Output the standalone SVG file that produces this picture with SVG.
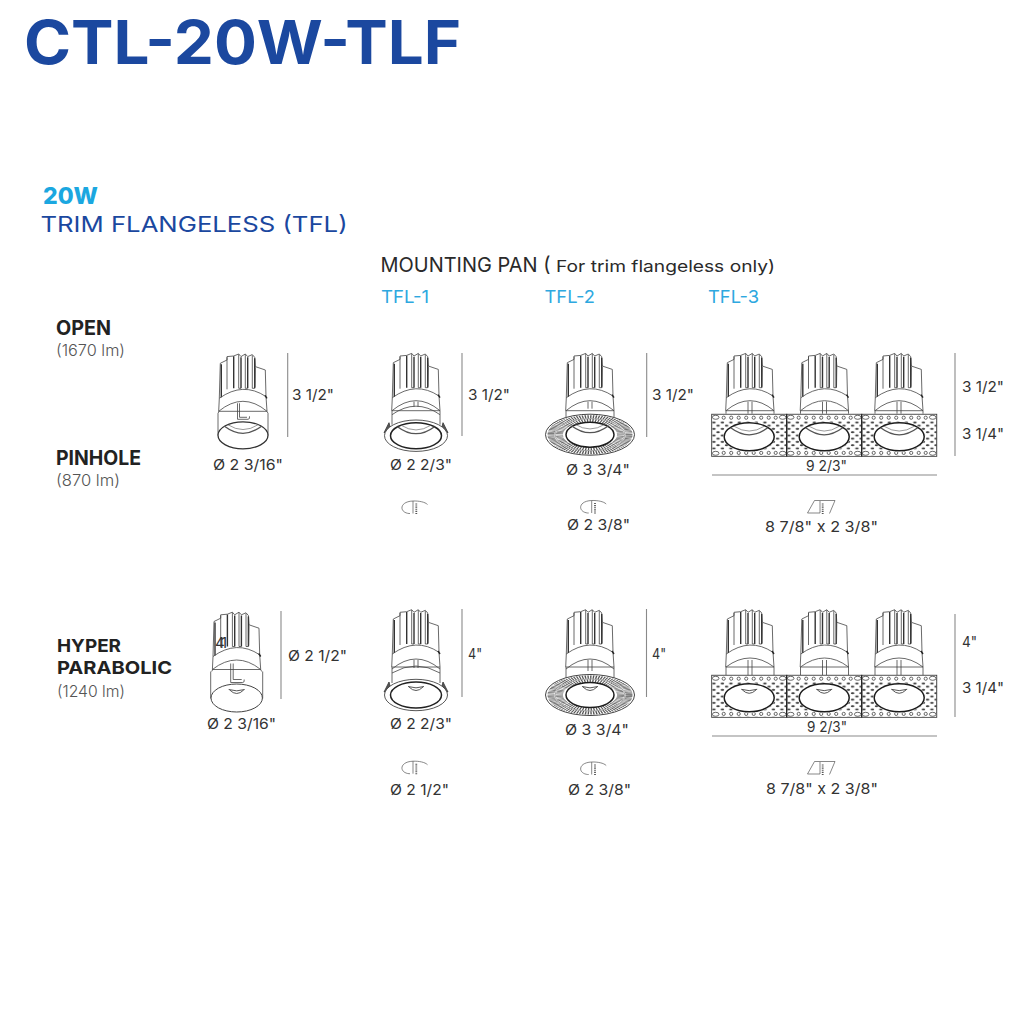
<svg xmlns="http://www.w3.org/2000/svg" xmlns:xlink="http://www.w3.org/1999/xlink" width="1030" height="1030" viewBox="0 0 1030 1030">
<style>
text{font-family:"Inter","Liberation Sans",sans-serif}
.dim{font-size:15px;fill:#333}
.head{font-size:19.5px;font-weight:700;fill:#222}
.head2{font-size:18px;font-weight:700;fill:#222}
.lm{font-size:16px;font-weight:300;fill:#555}
.tfl{font-size:17.5px;fill:#2ea8df}
.ln{fill:none;stroke:#444;stroke-width:.8}
.w{fill:#fff;stroke:#444;stroke-width:.8}
.dk{fill:none;stroke:#333;stroke-width:1.4}
.hole{fill:#fff;stroke:#1c1c1c;stroke-width:1.5}
.dimline{stroke:#8a8a8a;stroke-width:1.1;fill:none}
.scr{fill:none;stroke:#555;stroke-width:1.8;stroke-dasharray:1 .9}
.icn{fill:none;stroke:#555;stroke-width:.7}
.div{stroke:#222;stroke-width:1.2;fill:none}
</style>
<defs>
<g id="sink">
<path class="w" d="M-24.3,58 L-23.7,45 L-22.7,10 L-16,6.7 L-16,3.3 L-9.3,2.7 L-4.3,.7 L-2,3.3 L2.3,.7 L4.7,3.3 L9.3,1.3 L11.7,4 L12.3,13.3 L22.3,16.7 L23,43.3 L24,58 Z"/>
<path class="dk" d="M-21.7,11 V44 M-9.3,3 V35 M-2,4 V35 M4.7,4 V35 M11.7,5 V35"/>
<path class="ln" d="M-16,4 V36 M-4.3,1 V35 H-2 M2.3,1 V35 H4.7 M9.3,2 V35 H11.7 M12.3,14 L12,34 M-23.7,45 Q0,28 23,43.3"/>
<path d="M22,42 L24,45" stroke="#222" stroke-width="1.4" fill="none"/>
</g>
<pattern id="holes" width="8.5" height="6.5" patternUnits="userSpaceOnUse">
<ellipse cx="2.2" cy="1.6" rx="1.8" ry=".9" fill="#333"/>
<ellipse cx="6.4" cy="4.9" rx="1.8" ry=".9" fill="#333"/>
</pattern>
<g id="cell">
<rect width="75" height="42" fill="url(#holes)" stroke="#444" stroke-width="1"/>
<rect x=".6" y=".6" width="73.8" height="6" fill="#fff"/>
<rect x=".6" y="35.4" width="73.8" height="6" fill="#fff"/>
<g fill="#fff" stroke="#444" stroke-width=".8">
<ellipse cx="4" cy="3" rx="3.300" ry="2"/><ellipse cx="71" cy="3" rx="3.300" ry="2"/><ellipse cx="4" cy="39" rx="3.300" ry="2"/><ellipse cx="71" cy="39" rx="3.300" ry="2"/>
<circle cx="12" cy="3.400" r="1.600"/><circle cx="19.500" cy="3.400" r="1.600"/><circle cx="27" cy="3.400" r="1.600"/><circle cx="34.500" cy="3.400" r="1.600"/><circle cx="42" cy="3.400" r="1.600"/><circle cx="49.500" cy="3.400" r="1.600"/><circle cx="57" cy="3.400" r="1.600"/><circle cx="64" cy="3.400" r="1.600"/>
<circle cx="12" cy="38.600" r="1.600"/><circle cx="19.500" cy="38.600" r="1.600"/><circle cx="27" cy="38.600" r="1.600"/><circle cx="34.500" cy="38.600" r="1.600"/><circle cx="42" cy="38.600" r="1.600"/><circle cx="49.500" cy="38.600" r="1.600"/><circle cx="57" cy="38.600" r="1.600"/><circle cx="64" cy="38.600" r="1.600"/>
</g>
<ellipse cx="37.500" cy="22.500" rx="26" ry="15" fill="#fff"/>
<ellipse class="hole" cx="37.500" cy="22.500" rx="25" ry="14"/>
</g>
<g id="baffle" fill="none" stroke="#555">
<path d="M-18.500,-9 Q0,5 18.500,-9" stroke-width="1.300"/>
<path d="M-15,-10.500 Q0,-1 15,-10.500" stroke-width=".6"/>
</g>
<path id="lens" d="M-8,-8.500 Q0,-5.800 8,-8.500 M-7,-8 Q0,-1 7,-8" fill="none" stroke="#444" stroke-width=".9"/>
<g id="disc">
<ellipse cx="0" cy="0" rx="44.500" ry="20.500" fill="#fff" stroke="#444" stroke-width="1"/>
<g transform="scale(1,.46)" fill="none" stroke="#555">
<circle r="39" stroke-width="7" stroke-dasharray="1.400 1.300"/>
<circle r="30.500" stroke-width="7" stroke-dasharray="1.300 1.400"/>
<circle r="34.800" stroke-width=".8" stroke="#666"/>
</g>
<ellipse class="hole" cx="0" cy="0" rx="24" ry="12.500"/>
</g>
<g id="ring">
<path d="M-27,-13 L-32,-3 L-25,-5 Z M27,-13 L32,-3 L25,-5 Z" fill="#555" stroke="#333" stroke-width=".8"/>
<ellipse fill="#fff" stroke="#444" stroke-width=".9" cx="0" cy="0" rx="31.500" ry="15.700"/>
<ellipse fill="#fff" stroke="#222" stroke-width="1.500" cx="0" cy="0" rx="25.500" ry="13"/>
</g>
<g id="round">
<path class="icn" d="M-3,13 H-4 C-14,12 -14,1 0,.5 C6,.3 12,1.500 14.500,4 M0,.5 V13"/>
<path class="scr" d="M3.300,3 V14"/>
</g>
<g id="rect">
<path class="icn" d="M0,12.500 H-12.500 L-5.500,0 H15 L9.500,13 M0,.5 V12.500"/>
<path class="scr" d="M2.700,3 V14"/>
</g>
</defs>
<rect width="1030" height="1030" fill="#fff"/>

<g id="titles">
<text x="24" y="64" font-size="60" font-weight="700" fill="#1b489f" textLength="437" lengthAdjust="spacingAndGlyphs">CTL-20W-TLF</text>
<text x="43" y="203.500" font-size="23" font-weight="800" fill="#1ba7e0" textLength="55" lengthAdjust="spacingAndGlyphs">20W</text>
<text x="40.500" y="232" font-size="22" font-weight="400" fill="#1b489f" textLength="307" lengthAdjust="spacingAndGlyphs">TRIM FLANGELESS (TFL)</text>
<text x="380.500" y="271.700" font-size="20.500" fill="#2a2a2a" textLength="170" lengthAdjust="spacingAndGlyphs">MOUNTING PAN (</text>
<text x="556" y="271.700" font-size="16.500" fill="#2a2a2a" textLength="219" lengthAdjust="spacingAndGlyphs">For trim flangeless only)</text>
<text class="tfl" x="381" y="303" textLength="48" lengthAdjust="spacingAndGlyphs">TFL-1</text>
<text class="tfl" x="544.500" y="303" textLength="50.500" lengthAdjust="spacingAndGlyphs">TFL-2</text>
<text class="tfl" x="708" y="303" textLength="51" lengthAdjust="spacingAndGlyphs">TFL-3</text>
</g>

<g id="row-labels">
<text class="head" x="56" y="335" textLength="55" lengthAdjust="spacingAndGlyphs">OPEN</text>
<text class="lm" x="56" y="355.700" textLength="69" lengthAdjust="spacingAndGlyphs">(1670 lm)</text>
<text class="head" x="56" y="465" textLength="85" lengthAdjust="spacingAndGlyphs">PINHOLE</text>
<text class="lm" x="56" y="486" textLength="64" lengthAdjust="spacingAndGlyphs">(870 lm)</text>
<text class="head2" x="57" y="652" textLength="64" lengthAdjust="spacingAndGlyphs">HYPER</text>
<text class="head2" x="57" y="674" textLength="115" lengthAdjust="spacingAndGlyphs">PARABOLIC</text>
<text class="lm" x="57" y="696.500" textLength="68" lengthAdjust="spacingAndGlyphs">(1240 lm)</text>
</g>

<g id="connectors">
<path class="dimline" d="M287.700,353 V437 M462,353 V436 M646.700,353 V437 M955,353 V456 M712,475 H937"/>
<path class="dimline" d="M281,611 V699 M462,609 V697 M646.500,609 V697 M955,614 V717 M712,736 H937"/>
</g>

<g id="fixture-open-plain" transform="translate(243,353.300)">
<path class="ln" d="M-25,60 V82 M25,60 V82"/>
<use xlink:href="#sink" href="#sink"/>
<path class="ln" d="M-25,60 L-24,58 M25,60 L24,58 M-24.300,58 Q0,38 24,58"/>
<path class="ln" d="M-5.500,50 V66 H5 Q7,66 6.500,63 M-3.500,50 V64 H4"/>
<ellipse cx="0" cy="82" rx="25" ry="13.500" fill="#fff" stroke="#333" stroke-width="1.300"/>
<use xlink:href="#baffle" href="#baffle" x="0" y="82"/>
</g>
<g id="fixture-open-tfl1" transform="translate(416,352.700)">
<use xlink:href="#sink" href="#sink"/>
<path class="ln" d="M-24,58 Q0,38 24,58 M-24,62 Q0,45 24,62 M-24,58 V72 M24,58 V72 M-2,49 V54 M2,49 V54"/>
<use xlink:href="#ring" href="#ring" x="0" y="83"/>
<use xlink:href="#baffle" href="#baffle" x="0" y="83"/>
</g>
<g id="fixture-open-tfl2" transform="translate(590,352.700)">
<use xlink:href="#sink" href="#sink"/>
<path class="ln" d="M-24,58 Q0,38 24,58 M-24,58 V70 M24,58 V70 M-2,49 V56 M2,49 V56"/>
<use xlink:href="#disc" href="#disc" x="0" y="82"/>
<use xlink:href="#baffle" href="#baffle" x="0" y="82"/>
</g>
<g id="fixture-open-tfl3">
<g transform="translate(750,352.700)"><use xlink:href="#sink" href="#sink"/><path class="ln" d="M-24,61 V58 Q0,38 24,58 V61 M-2,49 V61 M2,49 V61"/></g>
<g transform="translate(824.500,352.700)"><use xlink:href="#sink" href="#sink"/><path class="ln" d="M-24,61 V58 Q0,38 24,58 V61 M-2,49 V61 M2,49 V61"/></g>
<g transform="translate(899,352.700)"><use xlink:href="#sink" href="#sink"/><path class="ln" d="M-24,61 V58 Q0,38 24,58 V61 M-2,49 V61 M2,49 V61"/></g>
<use xlink:href="#cell" href="#cell" x="711.700" y="414.300"/>
<use xlink:href="#cell" href="#cell" x="786.700" y="414.300"/>
<use xlink:href="#cell" href="#cell" x="861.700" y="414.300"/>
<path class="div" d="M786.700,414.300 V456.300 M861.700,414.300 V456.300"/>
<use xlink:href="#baffle" href="#baffle" x="749.200" y="436.800"/>
<use xlink:href="#baffle" href="#baffle" x="824.200" y="436.800"/>
<use xlink:href="#baffle" href="#baffle" x="899.200" y="436.800"/>
</g>

<g id="fixture-hyper-plain" transform="translate(236.700,611.500)">
<path class="ln" d="M-26,60 V87 M26,60 V87"/>
<use xlink:href="#sink" href="#sink"/>
<path class="ln" d="M-25,60 L-24,58 M25,60 L24,58 M-24.300,58 Q0,39 24,58"/>
<path class="ln" d="M-6,52 V71 H6 Q8,71 7.500,68 M-3.500,52 V68 H5"/>
<ellipse cx="0" cy="86.500" rx="25.700" ry="14" fill="#fff" stroke="#444" stroke-width="1"/>
<use xlink:href="#lens" href="#lens" x="0" y="86.500"/>
</g>
<g id="fixture-hyper-tfl1" transform="translate(416,609)">
<use xlink:href="#sink" href="#sink"/>
<path class="ln" d="M-24,60 Q0,40 24,60 M-24,64 Q0,50 24,64 M-2,51 V59 M2,51 V59 M-24,58 V74 M24,58 V74"/>
<use xlink:href="#ring" href="#ring" x="0" y="86"/>
<use xlink:href="#lens" href="#lens" x="0" y="86"/>
</g>
<g id="fixture-hyper-tfl2" transform="translate(590,609)">
<use xlink:href="#sink" href="#sink"/>
<path class="ln" d="M-24,60 Q0,40 24,60 M-24,58 V72 M24,58 V72 M-2,51 V62 M2,51 V62"/>
<use xlink:href="#disc" href="#disc" x="0" y="86"/>
<use xlink:href="#lens" href="#lens" x="0" y="86"/>
</g>
<g id="fixture-hyper-tfl3">
<g transform="translate(750,609)"><use xlink:href="#sink" href="#sink"/><path class="ln" d="M-24,66 V58 Q0,40 24,58 V66 M-2,51 V66 M2,51 V66"/></g>
<g transform="translate(824.500,609)"><use xlink:href="#sink" href="#sink"/><path class="ln" d="M-24,66 V58 Q0,40 24,58 V66 M-2,51 V66 M2,51 V66"/></g>
<g transform="translate(899,609)"><use xlink:href="#sink" href="#sink"/><path class="ln" d="M-24,66 V58 Q0,40 24,58 V66 M-2,51 V66 M2,51 V66"/></g>
<use xlink:href="#cell" href="#cell" x="711.700" y="675.300"/>
<use xlink:href="#cell" href="#cell" x="786.700" y="675.300"/>
<use xlink:href="#cell" href="#cell" x="861.700" y="675.300"/>
<path class="div" d="M786.700,675.300 V717.300 M861.700,675.300 V717.300"/>
<use xlink:href="#lens" href="#lens" x="749.200" y="697.800"/>
<use xlink:href="#lens" href="#lens" x="824.200" y="697.800"/>
<use xlink:href="#lens" href="#lens" x="899.200" y="697.800"/>
</g>

<g id="cutout-icons">
<use xlink:href="#round" href="#round" x="413" y="500.500"/>
<use xlink:href="#round" href="#round" x="591.700" y="500"/>
<use xlink:href="#rect" href="#rect" x="820" y="500.500"/>
<use xlink:href="#round" href="#round" x="413" y="760.700"/>
<use xlink:href="#round" href="#round" x="591.700" y="761.500"/>
<use xlink:href="#rect" href="#rect" x="820" y="761.500"/>
</g>

<g id="dimensions">
<text class="dim" x="292" y="400" textLength="42" lengthAdjust="spacingAndGlyphs">3 1/2"</text>
<text class="dim" x="213" y="470" textLength="70" lengthAdjust="spacingAndGlyphs">Ø 2 3/16"</text>
<text class="dim" x="468" y="400" textLength="42" lengthAdjust="spacingAndGlyphs">3 1/2"</text>
<text class="dim" x="390" y="470" textLength="62" lengthAdjust="spacingAndGlyphs">Ø 2 2/3"</text>
<text class="dim" x="652" y="400" textLength="42" lengthAdjust="spacingAndGlyphs">3 1/2"</text>
<text class="dim" x="566" y="475" textLength="64" lengthAdjust="spacingAndGlyphs">Ø 3 3/4"</text>
<text class="dim" x="567" y="530" textLength="63" lengthAdjust="spacingAndGlyphs">Ø 2 3/8"</text>
<text class="dim" x="962" y="392" textLength="42" lengthAdjust="spacingAndGlyphs">3 1/2"</text>
<text class="dim" x="962" y="439" textLength="42" lengthAdjust="spacingAndGlyphs">3 1/4"</text>
<text class="dim" x="806" y="470.700" textLength="41" lengthAdjust="spacingAndGlyphs">9 2/3"</text>
<text class="dim" x="765" y="531.700" textLength="113" lengthAdjust="spacingAndGlyphs">8 7/8" x 2 3/8"</text>
<text class="dim" x="215" y="647.700" textLength="12">41</text>
<text class="dim" x="288" y="661" textLength="59" lengthAdjust="spacingAndGlyphs">Ø 2 1/2"</text>
<text class="dim" x="207" y="729.300" textLength="69" lengthAdjust="spacingAndGlyphs">Ø 2 3/16"</text>
<text class="dim" x="468" y="659" textLength="14" lengthAdjust="spacingAndGlyphs">4"</text>
<text class="dim" x="390" y="729" textLength="62" lengthAdjust="spacingAndGlyphs">Ø 2 2/3"</text>
<text class="dim" x="390" y="795" textLength="59" lengthAdjust="spacingAndGlyphs">Ø 2 1/2"</text>
<text class="dim" x="652" y="659" textLength="14" lengthAdjust="spacingAndGlyphs">4"</text>
<text class="dim" x="565" y="735" textLength="64" lengthAdjust="spacingAndGlyphs">Ø 3 3/4"</text>
<text class="dim" x="568" y="795" textLength="63" lengthAdjust="spacingAndGlyphs">Ø 2 3/8"</text>
<text class="dim" x="962" y="647" textLength="15" lengthAdjust="spacingAndGlyphs">4"</text>
<text class="dim" x="962" y="693" textLength="42" lengthAdjust="spacingAndGlyphs">3 1/4"</text>
<text class="dim" x="807" y="731.700" textLength="40" lengthAdjust="spacingAndGlyphs">9 2/3"</text>
<text class="dim" x="766" y="794" textLength="112" lengthAdjust="spacingAndGlyphs">8 7/8" x 2 3/8"</text>
</g>
</svg>
